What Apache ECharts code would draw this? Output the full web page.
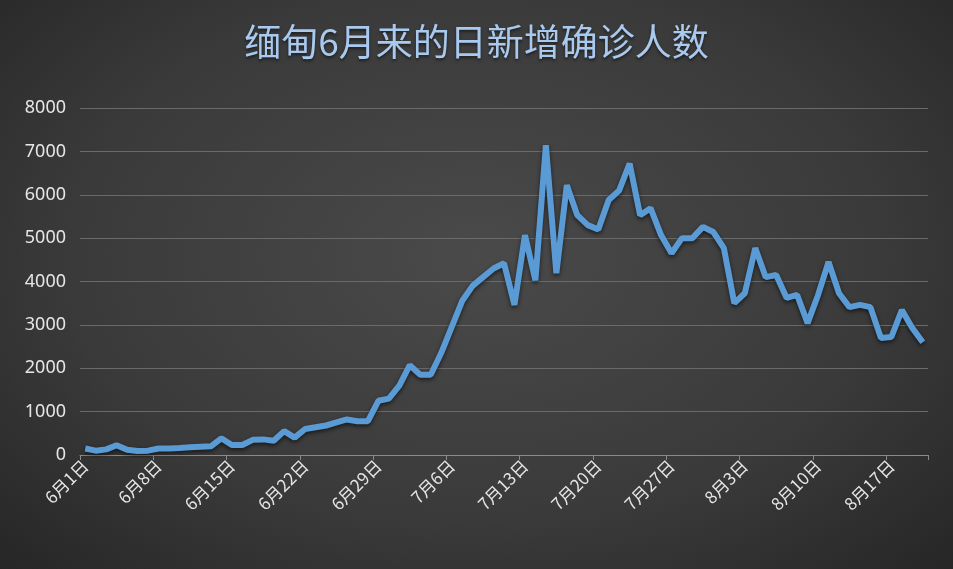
<!DOCTYPE html>
<html><head><meta charset="utf-8">
<script src="https://cdn.jsdelivr.net/npm/echarts@6/dist/echarts.min.js"></script>
<style>html,body{margin:0;padding:0;}#c{width:953px;height:569px;background:radial-gradient(ellipse at 50% 45%,#4a4a4a 0%,#3a3a3a 60%,#262626 100%);}</style>
</head><body><div id="c"></div>
<script>
const startMonth = 6, startDay = 1;
const values = [150,100,130,225,120,90,100,150,150,160,180,190,200,385,230,230,350,360,330,550,400,600,640,680,750,820,780,780,1250,1300,1600,2070,1850,1850,2350,2950,3550,3900,4100,4300,4420,3460,5070,4030,7140,4190,6220,5530,5300,5200,5880,6100,6720,5530,5690,5070,4650,5000,5000,5260,5140,4770,3500,3730,4770,4100,4150,3620,3690,3040,3690,4450,3730,3410,3460,3410,2700,2720,3340,2930,2600];
const yTicks = [0,1000,2000,3000,4000,5000,6000,7000,8000];
const monthLen = {6:30,7:31,8:31};
const categories = [];
{ let m = startMonth, d = startDay;
  for (let i = 0; i < values.length; i++) { categories.push(m + '月' + d + '日'); d++; if (d > monthLen[m]) { d = 1; m++; } } }
const chart = echarts.init(document.getElementById('c'));
chart.setOption({
  title:{text:'缅甸6月来的日新增确诊人数',left:'center',top:18,textStyle:{color:'#a9c9ee',fontSize:37,fontWeight:'normal',fontFamily:'Noto Sans CJK SC',textShadowColor:'rgba(0,0,0,0.5)',textShadowBlur:3,textShadowOffsetY:2}},
  grid:{left:80,right:25,top:108,bottom:114},
  xAxis:{type:'category',data:categories,boundaryGap:true,
    axisLine:{lineStyle:{color:'#8a8a8a'}},
    axisTick:{show:true,interval:6,lineStyle:{color:'#8a8a8a'}},
    axisLabel:{interval:6,rotate:45,color:'#e6e6e6',fontSize:17,fontFamily:'Noto Sans CJK SC',margin:8},
    splitLine:{show:false}},
  yAxis:{type:'value',min:yTicks[0],max:yTicks[yTicks.length-1],interval:1000,
    axisLine:{show:false},axisTick:{show:false},
    axisLabel:{color:'#e6e6e6',fontSize:18,fontFamily:'Noto Sans',margin:14,formatter:v=>String(v)},
    splitLine:{lineStyle:{color:'#6a6a6a',width:1}}},
  series:[{type:'line',data:values,symbol:'none',smooth:false,
    lineStyle:{color:'#5b9bd5',width:6,shadowColor:'rgba(0,0,0,0.6)',shadowBlur:4,shadowOffsetY:2}}],
  animation:false
});
</script></body></html>
